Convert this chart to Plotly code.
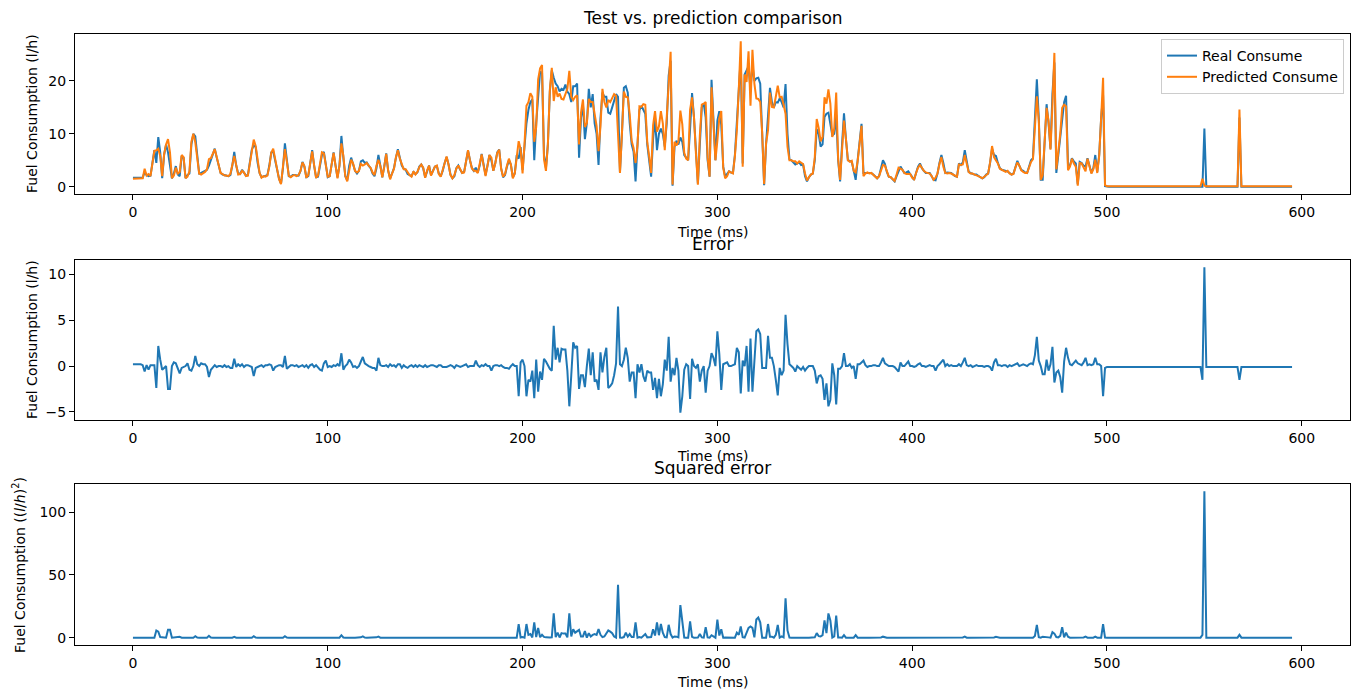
import plotly.graph_objects as go

# Real fuel consumption (l/h), one value per time step 0..595
real_consume = [
    1.7, 1.7, 1.7, 1.7, 1.7, 1.7, 2.8, 2.2, 2.0, 2.1,        # 0
    4.5, 6.9, 4.5, 9.4, 6.5, 1.6, 6.0, 8.0, 6.5, 4.0,        # 10
    1.6, 2.5, 3.9, 2.3, 2.0, 5.8, 5.5, 1.6, 2.2, 2.5,        # 20
    8.0, 10.0, 9.5, 6.0, 2.5, 2.6, 2.8, 3.0, 3.2, 4.0,       # 30
    5.0, 6.0, 7.2, 5.5, 4.0, 2.6, 2.3, 2.2, 2.0, 2.0,        # 40
    2.2, 4.0, 6.6, 4.0, 2.5, 2.4, 3.2, 2.6, 2.1, 2.2,        # 50
    4.5, 7.0, 7.8, 7.5, 4.5, 2.6, 1.8, 1.9, 2.0, 2.2,        # 60
    4.0, 6.5, 6.7, 5.0, 3.5, 1.5, 0.6, 3.5, 8.2, 4.5,        # 70
    2.0, 1.9, 2.2, 2.2, 2.1, 2.1, 3.0, 4.7, 3.8, 1.8,        # 80
    2.0, 4.5, 6.9, 4.0, 1.8, 1.9, 4.0, 6.0, 6.6, 4.4,        # 90
    1.8, 2.0, 4.5, 6.5, 4.0, 1.8, 4.0, 9.6, 5.5, 2.0,        # 100
    1.2, 4.0, 5.5, 4.3, 3.0, 2.5, 3.0, 4.8, 5.0, 4.5,        # 110
    4.6, 4.0, 3.5, 2.5, 2.0, 3.5, 6.0, 4.0, 1.8, 3.8,        # 120
    6.3, 3.0, 1.6, 2.5, 3.5, 5.5, 7.1, 5.5, 4.0, 3.4,        # 130
    3.2, 2.4, 2.2, 2.0, 2.8, 2.4, 2.7, 3.8, 4.2, 3.5,        # 140
    1.8, 3.0, 4.0, 2.2, 3.0, 3.8, 3.9, 2.5, 2.0, 3.0,        # 150
    4.5, 5.6, 4.2, 2.3, 1.6, 2.0, 3.5, 4.0, 3.2, 2.6,        # 160
    2.8, 5.0, 6.8, 5.0, 3.5, 3.0, 3.6, 2.7, 4.0, 6.2,        # 170
    4.0, 2.2, 4.0, 6.0, 5.0, 3.0, 4.5, 6.5, 7.0, 3.5,        # 180
    1.8, 2.2, 3.8, 5.0, 4.2, 1.8, 2.5, 6.0, 5.3, 7.5,        # 190
    3.2, 8.0, 12.0, 14.5, 16.0, 16.5, 5.0, 12.0, 17.5, 21.8,  # 200
    21.5, 6.0, 3.5, 8.0, 18.0, 22.0, 20.6, 19.5, 19.0, 18.0,  # 210
    18.5, 18.3, 19.3, 18.0, 17.5, 16.0, 19.0, 19.0, 19.5, 5.5,  # 220
    13.0, 15.5, 9.0, 12.0, 18.5, 15.0, 17.5, 12.0, 10.0, 4.1,  # 230
    13.0, 17.8, 17.0, 17.0, 14.0, 13.8, 15.0, 16.5, 17.5, 17.0,  # 240
    2.8, 10.0, 18.7, 19.0, 17.8, 12.0, 8.0, 6.6, 1.0, 8.0,   # 250
    14.5, 15.3, 14.5, 13.8, 8.0, 5.0, 1.9, 9.0, 13.0, 6.9,   # 260
    10.0, 11.0, 10.0, 7.6, 12.0, 21.0, 23.8, 0.2, 7.5, 8.7,  # 270
    8.0, 9.3, 8.5, 6.0, 5.5, 5.0, 11.0, 17.7, 13.1, 6.0,     # 280
    0.6, 8.0, 15.0, 15.7, 13.1, 5.0, 1.9, 20.2, 12.0, 5.0,   # 290
    12.5, 14.3, 11.7, 3.8, 1.9, 2.4, 2.9, 2.7, 2.6, 6.0,     # 300
    12.7, 20.0, 24.5, 4.4, 21.2, 22.0, 22.8, 18.3, 23.1, 20.0,  # 310
    20.5, 20.6, 19.5, 10.0, 0.3, 8.0, 14.0, 18.7, 16.0, 15.0,  # 320
    16.0, 15.9, 16.7, 16.0, 15.0, 19.4, 10.0, 5.2, 5.0, 4.6,  # 330
    4.2, 4.4, 4.6, 4.1, 4.2, 2.0, 1.0, 1.8, 2.3, 2.5,        # 340
    5.0, 10.9, 10.0, 7.6, 8.0, 13.2, 13.8, 14.0, 12.0, 9.7,  # 350
    10.0, 13.6, 5.0, 1.0, 8.0, 13.9, 9.0, 5.0, 4.9, 4.7,     # 360
    3.0, 1.3, 5.0, 9.0, 11.9, 2.6, 2.6, 2.6, 2.5, 2.6,       # 370
    2.3, 2.0, 1.6, 2.0, 3.5, 5.0, 4.3, 2.8, 1.9, 1.8,        # 380
    1.4, 1.0, 2.0, 3.0, 3.8, 3.2, 2.6, 2.7, 2.9, 2.4,        # 390
    1.7, 1.3, 2.6, 3.8, 4.4, 3.5, 3.0, 2.6, 2.6, 2.6,        # 400
    2.0, 1.3, 1.2, 2.5, 4.5, 6.0, 4.5, 2.6, 2.7, 2.6,        # 410
    2.6, 2.3, 2.0, 1.9, 4.4, 4.1, 4.6, 6.9, 4.5, 2.8,        # 420
    2.6, 2.4, 2.3, 2.3, 2.0, 1.8, 1.6, 1.8, 2.3, 2.5,        # 430
    4.5, 7.2, 6.0, 5.8, 4.5, 3.5, 3.2, 3.1, 2.9, 2.9,        # 440
    2.6, 2.3, 2.5, 3.8, 4.9, 4.0, 3.2, 3.0, 2.7, 2.6,        # 450
    4.0, 5.0, 5.4, 13.0, 20.3, 13.0, 1.3, 1.3, 8.0, 15.6,    # 460
    12.0, 7.2, 17.5, 23.5, 2.6, 6.0, 8.8, 12.0, 16.0, 17.2,  # 470
    4.0, 4.0, 5.4, 4.8, 4.4, 0.5, 4.7, 4.5, 4.0, 3.8,        # 480
    5.4, 4.0, 2.6, 3.5, 6.0, 2.8, 6.0, 13.0, 17.3, 0.1,      # 490
    0.0, 0.0, 0.0, 0.0, 0.0, 0.0, 0.0, 0.0, 0.0, 0.0,        # 500
    0.0, 0.0, 0.0, 0.0, 0.0, 0.0, 0.0, 0.0, 0.0, 0.0,        # 510
    0.0, 0.0, 0.0, 0.0, 0.0, 0.0, 0.0, 0.0, 0.0, 0.0,        # 520
    0.0, 0.0, 0.0, 0.0, 0.0, 0.0, 0.0, 0.0, 0.0, 0.0,        # 530
    0.0, 0.0, 0.0, 0.0, 0.0, 0.0, 0.0, 0.0, 0.0, 0.0,        # 540
    11.0, 0.0, 0.0, 0.0, 0.0, 0.0, 0.0, 0.0, 0.0, 0.0,       # 550
    0.0, 0.0, 0.0, 0.0, 0.0, 0.0, 0.0, 0.0, 13.1, 0.0,       # 560
    0.0, 0.0, 0.0, 0.0, 0.0, 0.0, 0.0, 0.0, 0.0, 0.0,        # 570
    0.0, 0.0, 0.0, 0.0, 0.0, 0.0, 0.0, 0.0, 0.0, 0.0,        # 580
    0.0, 0.0, 0.0, 0.0, 0.0, 0.0,                            # 590
]

# Predicted fuel consumption (l/h)
predicted_consume = [
    1.5, 1.5, 1.5, 1.5, 1.5, 1.6, 3.4, 2.1, 2.4, 2.0,        # 0
    4.4, 6.8, 6.9, 7.2, 5.8, 2.0, 6.2, 8.0, 9.0, 6.5,        # 10
    1.6, 2.1, 3.6, 2.5, 2.8, 6.0, 5.6, 1.6, 1.9, 2.9,        # 20
    8.5, 10.0, 8.4, 5.8, 2.5, 2.3, 2.6, 2.8, 3.3, 5.2,       # 30
    5.4, 6.1, 7.1, 5.6, 4.0, 2.6, 2.4, 2.1, 2.1, 2.0,        # 40
    2.4, 4.2, 5.8, 4.1, 2.3, 2.4, 3.0, 2.7, 2.0, 2.1,        # 50
    4.5, 7.1, 8.9, 7.7, 4.6, 2.6, 1.7, 2.0, 1.9, 2.1,        # 60
    3.8, 6.4, 7.2, 5.1, 3.5, 1.4, 0.5, 3.6, 7.1, 4.8,        # 70
    2.1, 1.8, 2.1, 2.2, 2.0, 2.2, 3.0, 4.6, 3.9, 1.7,        # 80
    2.2, 4.4, 6.7, 4.1, 1.7, 2.1, 4.4, 6.5, 6.3, 3.8,        # 90
    1.9, 2.0, 4.6, 6.4, 4.0, 1.6, 4.0, 8.2, 5.9, 2.0,        # 100
    1.0, 3.3, 5.1, 4.4, 3.0, 2.7, 3.0, 4.3, 4.0, 4.2,        # 110
    4.5, 4.0, 3.6, 2.7, 2.2, 4.0, 5.1, 3.9, 1.8, 3.8,        # 120
    6.2, 3.1, 1.4, 2.5, 3.4, 5.6, 6.9, 5.3, 4.2, 3.3,        # 130
    3.3, 2.6, 2.2, 1.9, 2.9, 2.3, 2.8, 3.7, 4.2, 3.6,        # 140
    1.7, 3.1, 4.0, 2.1, 2.9, 3.8, 4.0, 2.4, 1.9, 3.1,        # 150
    4.6, 5.7, 4.2, 2.2, 1.6, 2.2, 3.4, 4.0, 3.3, 2.6,        # 160
    2.7, 4.8, 6.9, 5.0, 3.5, 3.0, 3.0, 2.6, 4.1, 6.1,        # 170
    4.0, 2.0, 4.0, 6.0, 5.5, 3.0, 4.4, 6.4, 7.0, 3.4,        # 180
    1.9, 2.4, 4.0, 5.3, 4.2, 1.6, 2.5, 6.0, 8.6, 7.1,        # 190
    2.5, 8.0, 15.3, 16.0, 17.7, 17.0, 8.5, 11.3, 20.3, 22.4,  # 200
    23.0, 5.2, 3.0, 8.0, 18.3, 22.5, 16.2, 18.8, 17.0, 17.6,  # 210
    16.6, 16.5, 17.5, 18.5, 21.9, 17.0, 16.4, 17.0, 17.3, 8.0,  # 220
    14.0, 16.5, 11.3, 12.0, 16.6, 16.0, 16.0, 13.7, 11.5, 6.7,  # 230
    11.5, 18.5, 16.0, 15.0, 16.4, 16.0, 16.9, 17.5, 17.2, 10.5,  # 240
    2.6, 10.0, 18.0, 17.0, 16.9, 13.7, 8.7, 7.3, 4.5, 7.8,   # 250
    15.2, 15.1, 15.6, 15.5, 8.5, 5.7, 2.6, 11.6, 14.3, 10.4,  # 260
    11.4, 14.3, 12.0, 6.9, 12.5, 17.8, 25.5, 0.4, 8.5, 7.8,  # 270
    8.5, 14.4, 11.8, 6.4, 5.3, 5.0, 14.6, 16.9, 13.1, 6.2,   # 280
    0.4, 9.7, 15.5, 15.7, 16.0, 5.5, 1.9, 18.8, 11.1, 5.0,   # 290
    8.7, 13.0, 14.3, 3.6, 1.6, 2.0, 2.9, 2.7, 2.5, 5.8,      # 300
    10.7, 18.5, 27.5, 3.8, 21.2, 19.8, 25.6, 15.3, 25.9, 19.5,  # 310
    16.7, 16.6, 16.0, 10.2, 0.5, 8.2, 10.7, 17.8, 15.1, 15.0,  # 320
    17.5, 19.1, 16.9, 17.0, 15.5, 13.8, 7.6, 5.0, 5.0, 4.8,  # 330
    4.8, 4.4, 4.8, 4.5, 4.3, 2.5, 1.2, 1.8, 2.3, 2.5,        # 340
    5.5, 12.8, 11.1, 8.6, 9.4, 16.9, 15.7, 18.4, 15.7, 9.4,  # 350
    11.0, 17.8, 5.3, 1.3, 8.0, 12.5, 9.0, 5.0, 4.7, 4.9,     # 360
    3.0, 2.7, 4.8, 8.8, 11.5, 2.0, 2.5, 2.7, 2.5, 2.6,       # 370
    2.2, 1.9, 1.6, 2.0, 3.1, 4.1, 4.0, 2.7, 1.9, 1.8,        # 380
    1.4, 1.1, 2.3, 3.6, 3.4, 3.2, 2.6, 2.4, 2.4, 2.4,        # 390
    1.7, 1.4, 2.6, 3.6, 4.1, 3.5, 3.0, 2.7, 2.6, 2.5,        # 400
    2.0, 1.3, 1.7, 2.5, 4.3, 5.6, 3.8, 2.6, 2.5, 2.6,        # 410
    2.5, 2.3, 2.0, 1.9, 4.2, 4.1, 4.2, 6.0, 4.4, 2.8,        # 420
    2.5, 2.5, 2.3, 2.2, 2.0, 1.8, 1.6, 1.9, 2.3, 2.5,        # 430
    4.6, 7.7, 5.6, 5.0, 4.4, 3.4, 3.2, 3.0, 2.8, 3.0,        # 440
    2.5, 2.3, 2.4, 3.6, 4.6, 4.0, 3.1, 2.8, 2.6, 2.6,        # 450
    3.8, 4.7, 5.2, 11.8, 17.1, 12.4, 1.3, 2.2, 8.9, 14.9,    # 460
    12.5, 7.0, 15.4, 25.3, 3.3, 6.5, 10.0, 14.9, 15.5, 15.2,  # 470
    3.1, 3.8, 5.3, 4.4, 3.8, 0.2, 4.5, 4.4, 3.6, 2.9,        # 480
    5.3, 3.8, 2.5, 3.3, 5.1, 2.6, 5.8, 13.0, 20.6, 0.3,      # 490
    0.1, 0.1, 0.1, 0.1, 0.1, 0.1, 0.1, 0.1, 0.1, 0.1,        # 500
    0.1, 0.1, 0.1, 0.1, 0.1, 0.1, 0.1, 0.1, 0.1, 0.1,        # 510
    0.1, 0.1, 0.1, 0.1, 0.1, 0.1, 0.1, 0.1, 0.1, 0.1,        # 520
    0.1, 0.1, 0.1, 0.1, 0.1, 0.1, 0.1, 0.1, 0.1, 0.1,        # 530
    0.1, 0.1, 0.1, 0.1, 0.1, 0.1, 0.1, 0.1, 0.1, 1.5,        # 540
    0.2, 0.1, 0.1, 0.1, 0.1, 0.1, 0.1, 0.1, 0.1, 0.1,        # 550
    0.1, 0.1, 0.1, 0.1, 0.1, 0.1, 0.1, 0.1, 14.6, 0.1,       # 560
    0.1, 0.1, 0.1, 0.1, 0.1, 0.1, 0.1, 0.1, 0.1, 0.1,        # 570
    0.1, 0.1, 0.1, 0.1, 0.1, 0.1, 0.1, 0.1, 0.1, 0.1,        # 580
    0.1, 0.1, 0.1, 0.1, 0.1, 0.1,                            # 590
]

x_ticks = [0, 100, 200, 300, 400, 500, 600]
y1_ticks = [0, 10, 20]
y2_ticks = [-5, 0, 5, 10]
y3_ticks = [0, 50, 100]

time_ms = list(range(len(real_consume)))
error = [r - p for r, p in zip(real_consume, predicted_consume)]
squared_error = [e * e for e in error]


def padded(lo, hi, frac=0.05):
    span = hi - lo
    return [lo - frac * span, hi + frac * span]


BLUE = "#1f77b4"
ORANGE = "#ff7f0e"
FONT = "DejaVu Sans"
W, H = 1357, 693
FS = 14

fig = go.Figure()
fig.add_trace(go.Scatter(x=time_ms, y=real_consume, mode="lines", name="Real Consume",
                         line=dict(color=BLUE, width=2), xaxis="x", yaxis="y"))
fig.add_trace(go.Scatter(x=time_ms, y=predicted_consume, mode="lines", name="Predicted Consume",
                         line=dict(color=ORANGE, width=2), xaxis="x", yaxis="y"))
fig.add_trace(go.Scatter(x=time_ms, y=error, mode="lines", showlegend=False,
                         line=dict(color=BLUE, width=2), xaxis="x2", yaxis="y2"))
fig.add_trace(go.Scatter(x=time_ms, y=squared_error, mode="lines", showlegend=False,
                         line=dict(color=BLUE, width=2), xaxis="x3", yaxis="y3"))

x_dom = [75 / W, 1350 / W]


def ydom(top_px, bottom_px):
    return [1 - bottom_px / H, 1 - top_px / H]


axis_common = dict(showline=True, mirror=True, linecolor="black", linewidth=1,
                   ticks="outside", ticklen=5, tickwidth=1, tickcolor="black",
                   showgrid=False, zeroline=False,
                   tickfont=dict(family=FONT, size=FS, color="black"))

x_range = padded(min(time_ms), max(time_ms))
all_top = real_consume + predicted_consume

fig.update_layout(
    width=W, height=H, autosize=False,
    margin=dict(l=0, r=0, t=0, b=0),
    paper_bgcolor="white", plot_bgcolor="white",
    font=dict(family=FONT, size=FS, color="black"),
    xaxis=dict(domain=x_dom, anchor="y", range=x_range, tickvals=x_ticks, **axis_common),
    yaxis=dict(domain=ydom(34, 194), anchor="x", range=padded(min(all_top), max(all_top)),
               tickvals=y1_ticks, **axis_common),
    xaxis2=dict(domain=x_dom, anchor="y2", range=x_range, tickvals=x_ticks, **axis_common),
    yaxis2=dict(domain=ydom(260, 420), anchor="x2", range=padded(min(error), max(error)),
                tickvals=y2_ticks, **axis_common),
    xaxis3=dict(domain=x_dom, anchor="y3", range=x_range, tickvals=x_ticks, **axis_common),
    yaxis3=dict(domain=ydom(484, 645), anchor="x3", range=padded(min(squared_error), max(squared_error)),
                tickvals=y3_ticks, **axis_common),
    legend=dict(x=1344 / W, y=1 - 39 / H, xanchor="right", yanchor="top",
                bgcolor="rgba(255,255,255,0.8)", bordercolor="#cccccc", borderwidth=1,
                font=dict(family=FONT, size=FS, color="black"), itemwidth=30),
)

cx = (75 + 1350) / 2 / W
annots = [
    ("Test vs. prediction comparison", cx, 18, 17),
    ("Error", cx, 244, 17),
    ("Squared error", cx, 468, 17),
    ("Time (ms)", cx, 232, FS),
    ("Time (ms)", cx, 456, FS),
    ("Time (ms)", cx, 682, FS),
]
for text, x, ypx, size in annots:
    fig.add_annotation(text=text, x=x, y=1 - ypx / H, xref="paper", yref="paper",
                       xanchor="center", yanchor="middle", showarrow=False,
                       font=dict(family=FONT, size=size, color="black"))

ylabels = [
    ("Fuel Consumption (l/h)", 32, 114),
    ("Fuel Consumption (l/h)", 32, 340),
    ("Fuel Consumption ((<i>l</i>/<i>h</i>)<sup>2</sup>)", 19, 565),
]
for text, xpx, ypx in ylabels:
    fig.add_annotation(text=text, x=xpx / W, y=1 - ypx / H, xref="paper", yref="paper",
                       xanchor="center", yanchor="middle", showarrow=False, textangle=-90,
                       font=dict(family=FONT, size=FS, color="black"))

fig.write_html("out.html")
